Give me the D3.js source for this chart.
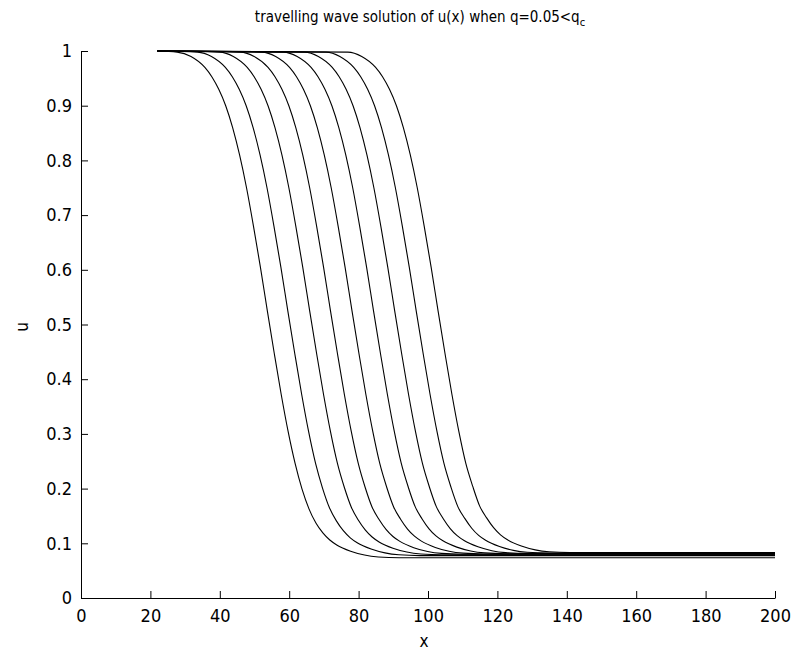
<!DOCTYPE html>
<html>
<head>
<meta charset="utf-8">
<script src="https://cdn.jsdelivr.net/npm/d3@7"></script>
<style>
  html, body { margin: 0; padding: 0; background: #fff; }
  svg { display: block; }
  text { font-family: "DejaVu Sans Condensed", "Liberation Sans Narrow", sans-serif; fill: #000; }
</style>
</head>
<body>
<svg id="chart" width="794" height="655"></svg>
<script>
// ---- data ----
const xTicks = [0, 20, 40, 60, 80, 100, 120, 140, 160, 180, 200];
const yTicks = [0, 0.1, 0.2, 0.3, 0.4, 0.5, 0.6, 0.7, 0.8, 0.9, 1];
const yTickLabels = ["0", "0.1", "0.2", "0.3", "0.4", "0.5", "0.6", "0.7", "0.8", "0.9", "1"];

const wave1x = [22, 27.7, 31.7, 35.7, 37.7, 39.7, 41.7, 43.7, 45.7, 47.7, 49.7, 51.7, 53.7, 55.7, 57.7, 59.7, 61.7, 63.7, 65.7, 67.7, 69.7, 71.7, 73.7, 77.7, 81.7, 85.7, 91.7, 200];
const wave1u = [1.0, 0.998, 0.99, 0.97, 0.953, 0.93, 0.90, 0.86, 0.81, 0.75, 0.68, 0.605, 0.525, 0.447, 0.372, 0.304, 0.246, 0.199, 0.163, 0.137, 0.119, 0.106, 0.097, 0.0855, 0.0785, 0.075, 0.0735, 0.0735];

const wave2x = [22, 33.6, 37.6, 41.6, 43.6, 45.6, 47.6, 49.6, 51.6, 53.6, 55.6, 57.6, 59.6, 61.6, 63.6, 65.6, 67.6, 69.6, 71.6, 73.6, 75.6, 77.6, 79.6, 83.6, 87.6, 91.6, 97.6, 200];
const wave2u = [1.0, 0.998, 0.99, 0.97, 0.953, 0.93, 0.90, 0.86, 0.81, 0.75, 0.68, 0.605, 0.525, 0.447, 0.372, 0.304, 0.246, 0.201, 0.165, 0.141, 0.123, 0.110, 0.101, 0.0895, 0.0825, 0.079, 0.0775, 0.0775];

const wave3x = [22, 39.9, 43.9, 47.9, 49.9, 51.9, 53.9, 55.9, 57.9, 59.9, 61.9, 63.9, 65.9, 67.9, 69.9, 71.9, 73.9, 75.9, 77.9, 79.9, 81.9, 83.9, 85.9, 89.9, 93.9, 97.9, 103.9, 200];
const wave3u = [1.0, 0.998, 0.99, 0.97, 0.953, 0.93, 0.90, 0.86, 0.81, 0.75, 0.68, 0.605, 0.525, 0.447, 0.372, 0.304, 0.246, 0.202, 0.166, 0.1425, 0.1245, 0.1115, 0.1025, 0.091, 0.084, 0.0805, 0.079, 0.079];

const wave4x = [22, 45.9, 49.9, 53.9, 55.9, 57.9, 59.9, 61.9, 63.9, 65.9, 67.9, 69.9, 71.9, 73.9, 75.9, 77.9, 79.9, 81.9, 83.9, 85.9, 87.9, 89.9, 91.9, 95.9, 99.9, 103.9, 109.9, 200];
const wave4u = [1.0, 0.998, 0.99, 0.97, 0.953, 0.93, 0.90, 0.86, 0.81, 0.75, 0.68, 0.605, 0.525, 0.447, 0.372, 0.304, 0.246, 0.202, 0.166, 0.1435, 0.1255, 0.1125, 0.1035, 0.092, 0.085, 0.0815, 0.080, 0.080];

const wave5x = [22, 52.1, 56.1, 60.1, 62.1, 64.1, 66.1, 68.1, 70.1, 72.1, 74.1, 76.1, 78.1, 80.1, 82.1, 84.1, 86.1, 88.1, 90.1, 92.1, 94.1, 96.1, 98.1, 102.1, 106.1, 110.1, 116.1, 200];
const wave5u = [1.0, 0.998, 0.99, 0.97, 0.953, 0.93, 0.90, 0.86, 0.81, 0.75, 0.68, 0.605, 0.525, 0.447, 0.372, 0.304, 0.246, 0.2025, 0.1665, 0.144, 0.126, 0.113, 0.104, 0.0925, 0.0855, 0.082, 0.0805, 0.0805];

const wave6x = [22, 58.3, 62.3, 66.3, 68.3, 70.3, 72.3, 74.3, 76.3, 78.3, 80.3, 82.3, 84.3, 86.3, 88.3, 90.3, 92.3, 94.3, 96.3, 98.3, 100.3, 102.3, 104.3, 108.3, 112.3, 116.3, 122.3, 200];
const wave6u = [1.0, 0.998, 0.99, 0.97, 0.953, 0.93, 0.90, 0.86, 0.81, 0.75, 0.68, 0.605, 0.525, 0.447, 0.372, 0.304, 0.246, 0.203, 0.167, 0.1445, 0.1265, 0.1135, 0.1045, 0.093, 0.086, 0.0825, 0.081, 0.081];

const wave7x = [22, 64.4, 68.4, 72.4, 74.4, 76.4, 78.4, 80.4, 82.4, 84.4, 86.4, 88.4, 90.4, 92.4, 94.4, 96.4, 98.4, 100.4, 102.4, 104.4, 106.4, 108.4, 110.4, 114.4, 118.4, 122.4, 128.4, 200];
const wave7u = [1.0, 0.998, 0.99, 0.97, 0.953, 0.93, 0.90, 0.86, 0.81, 0.75, 0.68, 0.605, 0.525, 0.447, 0.372, 0.304, 0.246, 0.203, 0.167, 0.145, 0.127, 0.114, 0.105, 0.0935, 0.0865, 0.083, 0.0815, 0.0815];

const wave8x = [22, 70.6, 74.6, 78.6, 80.6, 82.6, 84.6, 86.6, 88.6, 90.6, 92.6, 94.6, 96.6, 98.6, 100.6, 102.6, 104.6, 106.6, 108.6, 110.6, 112.6, 114.6, 116.6, 120.6, 124.6, 128.6, 134.6, 200];
const wave8u = [1.0, 0.998, 0.99, 0.97, 0.953, 0.93, 0.90, 0.86, 0.81, 0.75, 0.68, 0.605, 0.525, 0.447, 0.372, 0.304, 0.246, 0.203, 0.167, 0.1455, 0.1275, 0.1145, 0.1055, 0.094, 0.087, 0.0835, 0.082, 0.082];

const wave9x = [22, 76.9, 80.9, 84.9, 86.9, 88.9, 90.9, 92.9, 94.9, 96.9, 98.9, 100.9, 102.9, 104.9, 106.9, 108.9, 110.9, 112.9, 114.9, 116.9, 118.9, 120.9, 122.9, 126.9, 130.9, 134.9, 140.9, 200];
const wave9u = [1.0, 0.998, 0.99, 0.97, 0.953, 0.93, 0.90, 0.86, 0.81, 0.75, 0.68, 0.605, 0.525, 0.447, 0.372, 0.304, 0.246, 0.204, 0.168, 0.1465, 0.1285, 0.1155, 0.1065, 0.095, 0.088, 0.0845, 0.083, 0.083];

const waveX = [wave1x, wave2x, wave3x, wave4x, wave5x, wave6x, wave7x, wave8x, wave9x];
const waveU = [wave1u, wave2u, wave3u, wave4u, wave5u, wave6u, wave7u, wave8u, wave9u];

// ---- layout ----
const plotLeft = 81, plotRight = 775, plotTop = 51, plotBottom = 598;
const svg = d3.select("#chart");

const x = d3.scaleLinear().domain([0, 200]).range([plotLeft, plotRight]);
const y = d3.scaleLinear().domain([0, 1]).range([plotBottom, plotTop]);

// curves
const line = d3.line()
  .x(d => x(d[0]))
  .y(d => y(d[1]))
  .curve(d3.curveMonotoneX);

const g = svg.append("g");
waveX.forEach((xs, i) => {
  const pts = xs.map((v, j) => [v, waveU[i][j]]);
  g.append("path")
    .attr("d", line(pts))
    .attr("fill", "none")
    .attr("stroke", "#000")
    .attr("stroke-width", 1.1);
});

// axes
const xAxis = d3.axisBottom(x).tickValues(xTicks).tickFormat(d3.format("d"))
  .tickSizeInner(-7).tickSizeOuter(0).tickPadding(11);
const yAxis = d3.axisLeft(y).tickValues(yTicks).tickFormat((d, i) => yTickLabels[i])
  .tickSizeInner(-7).tickSizeOuter(0).tickPadding(9);

const gx = svg.append("g").attr("transform", `translate(0,${plotBottom})`).call(xAxis);
const gy = svg.append("g").attr("transform", `translate(${plotLeft},0)`).call(yAxis);

[gx, gy].forEach(a => {
  a.select(".domain").attr("stroke", "#000").attr("stroke-width", 1);
  a.selectAll(".tick line").attr("stroke", "#000").attr("stroke-width", 1);
  a.selectAll(".tick text")
    .style("font-family", '"DejaVu Sans Condensed", "Liberation Sans Narrow", sans-serif')
    .style("font-size", "18px").attr("fill", "#222");
});

// axis labels
svg.append("text").attr("x", 424).attr("y", 647).attr("text-anchor", "middle")
  .style("font-size", "17px").attr("fill", "#222").text("x");
svg.append("text").attr("transform", "translate(28,327) rotate(-90)").attr("text-anchor", "middle")
  .style("font-size", "17px").attr("fill", "#222").text("u");

// title
const title = svg.append("text").attr("x", 420).attr("y", 22).attr("text-anchor", "middle")
  .style("font-size", "15px").attr("fill", "#222");
title.append("tspan").text("travelling wave solution of u(x) when q=0.05<q");
title.append("tspan").attr("dy", 4).style("font-size", "11px").text("c");
</script>
</body>
</html>
